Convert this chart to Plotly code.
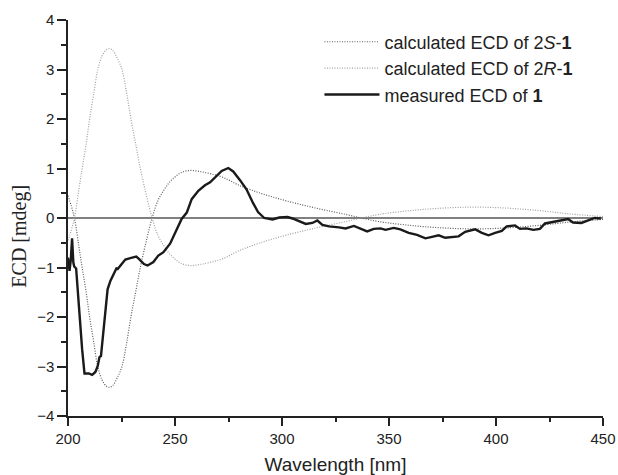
import plotly.graph_objects as go

# calculated ECD curves
wl_calc = [200, 201.5, 203, 205, 206.6, 208.5, 210.1, 212, 213.9, 216, 218, 219.5,
           221, 223, 225.2, 227.3, 229.4, 231.6, 233.8, 236.5, 239.3, 242, 244.6,
           247, 250, 253, 257, 261.5, 267, 272.5, 280, 290, 300, 310, 320, 330,
           337, 345, 360, 375, 390, 405, 420, 435, 450]
ecd_2s = [0.45, 0.25, 0.0, -0.55, -1.0, -1.5, -2.0, -2.5, -3.0, -3.28, -3.4, -3.42,
          -3.38, -3.23, -3.0, -2.55, -2.0, -1.5, -1.0, -0.48, 0.0, 0.35, 0.55,
          0.7, 0.83, 0.92, 0.96, 0.94, 0.89, 0.82, 0.66, 0.5, 0.37, 0.26, 0.16, 0.07,
          0.0, -0.07, -0.15, -0.2, -0.22, -0.2, -0.15, -0.08, -0.03]
ecd_2r = [-0.45, -0.25, 0.0, 0.55, 1.0, 1.5, 2.0, 2.5, 3.0, 3.28, 3.4, 3.42,
          3.38, 3.23, 3.0, 2.55, 2.0, 1.5, 1.0, 0.48, 0.0, -0.35, -0.55,
          -0.7, -0.83, -0.92, -0.96, -0.94, -0.89, -0.82, -0.66, -0.5, -0.37, -0.26, -0.16, -0.07,
          0.0, 0.07, 0.15, 0.2, 0.22, 0.2, 0.15, 0.08, 0.03]

# measured ECD
wl_meas = [200, 200.7, 201.3, 201.9, 202.5, 202.9, 203.8, 204.6, 205.8, 206.6, 207.7,
           209.7, 211.3, 212.8, 213.9, 214.7, 215.4, 216.4, 217.5, 218.5, 219.8,
           221.3, 222.6, 223.2, 224.4, 226.8, 229.1, 231.9, 233.0, 234.5, 235.5,
           237.2, 239.9, 242.2, 244.6, 247.7, 250.8, 253.1, 255.5, 257.8, 260.9,
           264.0, 266.4, 268.7, 271.8, 274.9, 277.2, 280.3, 283.4, 286.5, 288.8,
           291.7, 295.6, 298.7, 302.6, 304.9, 308.0, 311.1, 314.2, 316.5, 318.9,
           322.0, 326.6, 329.7, 333.6, 336.7, 339.8, 342.9, 346.0, 348.4, 352.2,
           355.3, 359.2, 363.1, 367.0, 370.1, 373.2, 376.3, 379.4, 382.5, 385.6,
           390.3, 393.4, 396.5, 399.6, 402.7, 405.0, 408.9, 411.2, 414.3, 417.4,
           420.5, 422.9, 425.9, 429.0, 431.4, 433.7, 436.0, 439.9, 443.0, 446.1, 449.0]
ecd_meas = [-0.80, -1.07, -0.85, -0.41, -0.90, -0.98, -1.02, -1.50, -2.10, -2.65, -3.14,
            -3.14, -3.17, -3.11, -2.99, -2.81, -2.79, -2.32, -1.78, -1.44, -1.27,
            -1.14, -1.02, -1.03, -0.97, -0.84, -0.81, -0.78, -0.82, -0.90, -0.93,
            -0.96, -0.89, -0.76, -0.69, -0.52, -0.22, -0.02, 0.11, 0.38, 0.55,
            0.66, 0.72, 0.82, 0.95, 1.01, 0.94, 0.77, 0.58, 0.30, 0.12,
            0.00, -0.03, 0.01, 0.02, -0.01, -0.07, -0.12, -0.10, -0.05, -0.14,
            -0.17, -0.19, -0.21, -0.16, -0.21, -0.27, -0.22, -0.21, -0.24, -0.20,
            -0.23, -0.30, -0.34, -0.41, -0.38, -0.35, -0.40, -0.39, -0.37, -0.28,
            -0.23, -0.30, -0.35, -0.30, -0.26, -0.17, -0.15, -0.22, -0.21, -0.24,
            -0.22, -0.11, -0.09, -0.07, -0.04, -0.02, -0.09, -0.10, -0.05, 0.00, -0.01]

sans = 'Arial, Liberation Sans, sans-serif'
serif = 'Times New Roman, Liberation Serif, serif'
ink = '#222222'

fig = go.Figure()
fig.add_trace(go.Scatter(x=wl_calc, y=ecd_2s, mode='lines', line_shape='spline',
                         name='calculated ECD of 2<i>S</i>-<b>1</b>',
                         line=dict(color='#5c5c5c', width=1.2, dash='1px,1.5px')))
fig.add_trace(go.Scatter(x=wl_calc, y=ecd_2r, mode='lines', line_shape='spline',
                         name='calculated ECD of 2<i>R</i>-<b>1</b>',
                         line=dict(color='#a0a0a0', width=1.2, dash='1px,1.5px')))
fig.add_trace(go.Scatter(x=wl_meas, y=ecd_meas, mode='lines',
                         name='measured ECD of <b>1</b>',
                         line=dict(color='#1a1a1a', width=2.4)))

fig.update_layout(
    width=618, height=475,
    margin=dict(l=68, r=15, t=20, b=59),
    plot_bgcolor='white', paper_bgcolor='white',
    font=dict(family=sans, size=15, color=ink),
    showlegend=True,
    legend=dict(x=0.47, y=0.991, xanchor='left', yanchor='top',
                bgcolor='rgba(0,0,0,0)', itemwidth=55,
                font=dict(family=sans, size=18, color=ink),
                tracegroupgap=0),
    xaxis=dict(range=[200, 450], dtick=50, showgrid=False, zeroline=False,
               showline=True, linecolor=ink, linewidth=1.5, automargin=False,
               ticks='outside', ticklen=8, tickwidth=1.5, tickcolor=ink,
               minor=dict(ticks='outside', ticklen=4, dtick=25, tickcolor=ink),
               title=dict(text='Wavelength [nm]', font=dict(family=sans, size=19, color=ink))),
    yaxis=dict(range=[-4, 4], dtick=1, showgrid=False,
               zeroline=True, zerolinecolor='#808080', zerolinewidth=1.5,
               showline=True, linecolor=ink, linewidth=1.5, automargin=False,
               ticks='outside', ticklen=9, tickwidth=1.5, tickcolor=ink,
               minor=dict(ticks='outside', ticklen=5, dtick=0.5, tickcolor=ink)),
)
# y title sits a little below the middle of the axis in the original
fig.add_annotation(text='ECD [mdeg]', xref='paper', yref='paper', x=-0.09, y=0.455,
                   textangle=-90, showarrow=False, xanchor='center', yanchor='middle',
                   font=dict(family=serif, size=20, color=ink))

# drop the default page margin so the figure fills the window exactly
fig.write_html("out.html", config={'displayModeBar': False},
               post_script="document.body.style.margin='0';document.body.style.overflow='hidden';")
